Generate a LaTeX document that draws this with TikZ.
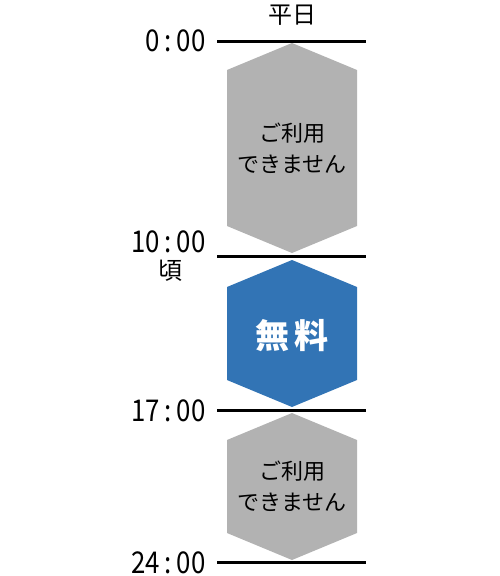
\documentclass[tikz,border=0pt]{standalone}
\usepackage{fontspec}
\setmainfont{Noto Sans CJK JP}
\newfontfamily\hourfont[FakeStretch=0.86]{Noto Sans CJK JP}
\definecolor{freeblue}{RGB}{50,116,181}
\definecolor{closedgray}{RGB}{178,178,178}
\begin{document}
\begin{tikzpicture}[x=1pt,y=-1pt,
  hour/.style={anchor=east,font=\hourfont\fontsize{30}{30}\selectfont},
  note/.style={align=center,font=\fontsize{22}{31}\selectfont}]
\useasboundingbox (0,0) rectangle (500,576);
% hours
\foreach \y in {41.5,256.5,410.5,562.5}{ \draw[line width=3pt] (217,\y) -- (366,\y); }
\node[hour] (t0) at (209,41) {0\,:\,00};
\node[hour] (t10) at (209,242) {10\,:\,00};
\node[font=\fontsize{24}{24}\selectfont] (about) at (170,271) {頃};
\node[hour] (t17) at (209,411) {17\,:\,00};
\node[hour] (t24) at (209,563) {24\,:\,00};
\node[font=\fontsize{24}{24}\selectfont] (weekday) at (292,15) {平日};
% blocks
\fill[closedgray] (292,43) -- (357,70) -- (357,226) -- (292,253) -- (227,226) -- (227,70) -- cycle;
\fill[freeblue] (292,260) -- (357,287) -- (357,380) -- (292,407) -- (227,380) -- (227,287) -- cycle;
\fill[closedgray] (292,413) -- (357,440) -- (357,533) -- (292,560) -- (227,533) -- (227,440) -- cycle;
\node[note] (closed1) at (292,148) {ご利用\\できません};
\node[text=white,font=\fontsize{34}{34}\selectfont\bfseries] (free) at (292,336) {無\hspace{6pt}料};
\node[note] (closed2) at (292,486) {ご利用\\できません};
\end{tikzpicture}
\end{document}
